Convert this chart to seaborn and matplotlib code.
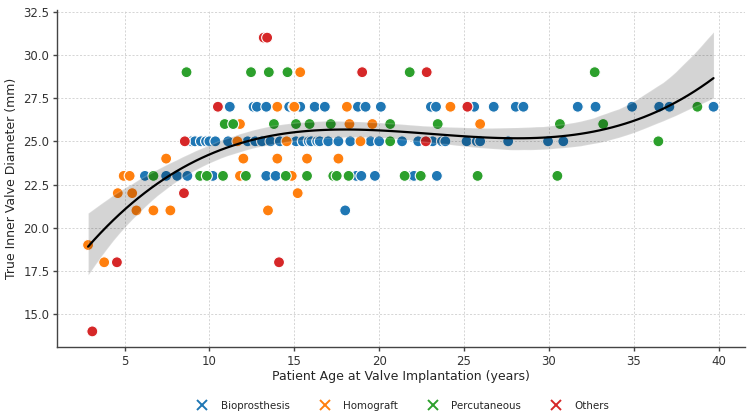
import numpy as np
import pandas as pd
import matplotlib.pyplot as plt
import seaborn as sns
from matplotlib.lines import Line2D

# Patient age at implantation (years) and true inner diameter (mm), per valve type
bio_age = [
    11.2, 12.6, 12.8, 13.35, 14.7, 14.95, 15.35, 16.2, 16.8, 18.75, 19.2, 20.1,
    23.05, 23.35, 25.6, 26.75, 28.05, 28.5, 31.7, 32.75, 34.9, 36.5, 37.1, 39.7,
    8.95, 9.15, 9.5, 9.8, 10.0, 10.35, 11.1, 12.25, 12.7, 13.1, 13.6, 14.15,
    15.1, 15.5, 15.85, 16.0, 16.35, 16.5, 17.0, 17.6, 18.3, 19.5, 20.0, 21.35,
    22.3, 23.15, 23.7, 23.9, 25.15, 25.75, 25.95, 27.6, 29.95, 30.85,
    6.2, 7.45, 8.1, 8.7, 10.2, 13.35, 13.9, 18.65, 18.95, 19.75, 21.9, 22.05, 23.4,
    18.0,
]
bio_diam = [
    27, 27, 27, 27, 27, 27, 27, 27, 27, 27, 27, 27,
    27, 27, 27, 27, 27, 27, 27, 27, 27, 27, 27, 27,
    25, 25, 25, 25, 25, 25, 25, 25, 25, 25, 25, 25,
    25, 25, 25, 25, 25, 25, 25, 25, 25, 25, 25, 25,
    25, 25, 25, 25, 25, 25, 25, 25, 25, 25,
    23, 23, 23, 23, 23, 23, 23, 23, 23, 23, 23, 23, 23,
    21,
]

homo_age = [
    14.0, 15.0, 18.1, 24.2,
    11.8, 18.25, 19.6, 25.95,
    11.65, 14.55, 18.9,
    7.45, 12.0, 14.0, 15.75, 17.6,
    4.95, 5.3, 11.8, 14.85,
    4.6, 5.45, 15.2,
    5.7, 6.7, 7.7, 13.45,
    2.85, 3.8, 15.35,
]
homo_diam = [
    27, 27, 27, 27,
    26, 26, 26, 26,
    25, 25, 25,
    24, 24, 24, 24, 24,
    23, 23, 23, 23,
    22, 22, 22,
    21, 21, 21, 21,
    19, 18, 29,
]

perc_age = [
    8.65, 12.45, 13.5, 14.6, 21.8, 32.7,
    38.75,
    10.9, 11.4, 13.8, 15.1, 15.9, 17.15, 20.65, 23.45, 30.65, 33.2,
    20.65, 36.45,
    6.7, 9.45, 9.85, 10.8, 12.15, 14.5, 15.75, 17.3, 17.5, 18.2, 21.5, 22.45,
    25.8, 30.5,
]
perc_diam = [
    29, 29, 29, 29, 29, 29,
    27,
    26, 26, 26, 26, 26, 26, 26, 26, 26, 26,
    25, 25,
    23, 23, 23, 23, 23, 23, 23, 23, 23, 23, 23, 23,
    23, 23,
]

other_age = [13.2, 13.4, 19.0, 22.8, 10.5, 25.2, 8.55, 22.75, 8.5, 4.55, 14.1, 3.1]
other_diam = [31, 31, 29, 29, 27, 27, 25, 25, 22, 18, 18, 14]

VALVE_TYPES = ["Bioprosthesis", "Homograft", "Percutaneous", "Others"]
COLORS = ["#1f77b4", "#ff7f0e", "#2ca02c", "#d62728"]


def build_frame():
    parts = [
        ("Bioprosthesis", bio_age, bio_diam),
        ("Homograft", homo_age, homo_diam),
        ("Percutaneous", perc_age, perc_diam),
        ("Others", other_age, other_diam),
    ]
    frames = [pd.DataFrame({"Age": a, "Diameter": d, "Valve": v}) for v, a, d in parts]
    return pd.concat(frames, ignore_index=True)


def plot(df):
    sns.set_theme(style="whitegrid")
    plt.rcParams.update({
        "font.family": ["DejaVu Sans"],
        "grid.linestyle": (0, (2.5, 2)),
        "grid.color": "#cfcfcf",
        "grid.linewidth": 0.6,
        "axes.edgecolor": "#444444",
        "axes.linewidth": 1.0,
        "xtick.bottom": True,
        "ytick.left": True,
    })

    fig = plt.figure(figsize=(7.5, 4.16), dpi=100)
    ax = fig.add_axes([0.076, 0.166, 0.917, 0.81])

    sns.scatterplot(
        data=df, x="Age", y="Diameter", hue="Valve", hue_order=VALVE_TYPES,
        palette=COLORS, s=62, edgecolor="white", linewidth=0.8, legend=False, ax=ax,
    )
    # cubic trend with bootstrap confidence band
    sns.regplot(
        data=df, x="Age", y="Diameter", order=3, scatter=False, color="black",
        line_kws={"linewidth": 1.6}, ax=ax, seed=3,
    )
    for coll in ax.collections[1:]:
        coll.set_alpha(0.17)

    ax.set_xlim(1.02, 41.54)
    ax.set_ylim(13.1, 32.6)
    ax.set_xticks([5, 10, 15, 20, 25, 30, 35, 40])
    ax.set_xlabel("Patient Age at Valve Implantation (years)", fontsize=9, labelpad=2)
    ax.set_ylabel("True Inner Valve Diameter (mm)", fontsize=9, labelpad=4)
    ax.tick_params(axis="both", labelsize=8.5, length=3, width=1, color="#444444",
                   labelcolor="#333333", pad=2.5)
    sns.despine(ax=ax)

    handles = [
        Line2D([], [], marker="x", linestyle="", color=c, markersize=7.5, markeredgewidth=1.4)
        for c in COLORS
    ]
    ax.legend(handles, VALVE_TYPES, loc="center", bbox_to_anchor=(0.5, -0.174),
              ncol=4, frameon=False, fontsize=7.4, columnspacing=2.4,
              handletextpad=0.8)

    fig.savefig("out.png", dpi=100)


if __name__ == "__main__":
    plot(build_frame())
